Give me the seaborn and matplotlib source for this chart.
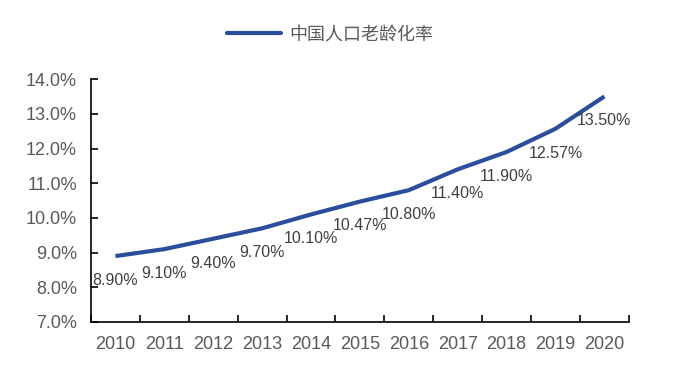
import matplotlib
matplotlib.use("Agg")
import matplotlib.pyplot as plt
import seaborn as sns
import pandas as pd
from matplotlib.ticker import FuncFormatter, MultipleLocator
from matplotlib.lines import Line2D

years = ["2010", "2011", "2012", "2013", "2014", "2015", "2016", "2017", "2018", "2019", "2020"]
rates = [8.90, 9.10, 9.40, 9.70, 10.10, 10.47, 10.80, 11.40, 11.90, 12.57, 13.50]
series_name = "中国人口老龄化率"

sns.set_theme(style="white")
plt.rcParams['font.family'] = ['Liberation Sans', 'Noto Sans CJK SC', 'DejaVu Sans']

df = pd.DataFrame({"year": years, "rate": rates, "series": series_name})
df["pos"] = range(len(years))

fig = plt.figure(figsize=(6.74, 3.68), dpi=100)
ax = fig.add_axes([0.135, 0.125, 0.798, 0.66])

line_color = "#2A4E9C"
sns.lineplot(data=df, x="pos", y="rate", hue="series", palette=[line_color],
             linewidth=3.0, ax=ax, legend=False, solid_capstyle="butt")

for i, v in enumerate(rates):
    ax.annotate(f"{v:.2f}%", (i, v), xytext=(0, -17.5), textcoords="offset points",
                ha="center", va="center", fontsize=11.5, color="#404040")

ax.set_xlim(-0.5, len(years) - 0.5)
ax.set_ylim(7.0, 14.0)
ax.yaxis.set_major_locator(MultipleLocator(1.0))
ax.yaxis.set_major_formatter(FuncFormatter(lambda v, p: f"{v:.1f}%"))
ax.set_xticks([i - 0.5 for i in range(len(years) + 1)], minor=False)
ax.set_xticklabels([])
ax.set_xticks(list(range(len(years))), minor=True)
ax.set_xticklabels(years, minor=True)
ax.tick_params(axis="x", which="major", direction="in", length=5, width=1.2, color="black", bottom=True)
ax.tick_params(axis="x", which="minor", length=0, labelsize=13, labelcolor="#595959", pad=10, bottom=True)
ax.tick_params(axis="y", direction="in", length=5, width=1.2, color="black", left=True,
               labelsize=13, labelcolor="#595959", pad=10)
ax.set_xlabel("")
ax.set_ylabel("")
for s in ["top", "right"]:
    ax.spines[s].set_visible(False)
for s in ["left", "bottom"]:
    ax.spines[s].set_color("black")
    ax.spines[s].set_linewidth(1.2)
ax.grid(False)

handle = Line2D([], [], color=line_color, linewidth=3.0)
fig.legend([handle], [series_name], loc="center", bbox_to_anchor=(0.49, 0.907),
           frameon=False, handlelength=3.0, handletextpad=0.45,
           prop={"family": ["Noto Sans CJK SC", "DejaVu Sans"], "size": 13})
for t in fig.legends[0].get_texts():
    t.set_color("#595959")

fig.savefig("out.png", dpi=100)
